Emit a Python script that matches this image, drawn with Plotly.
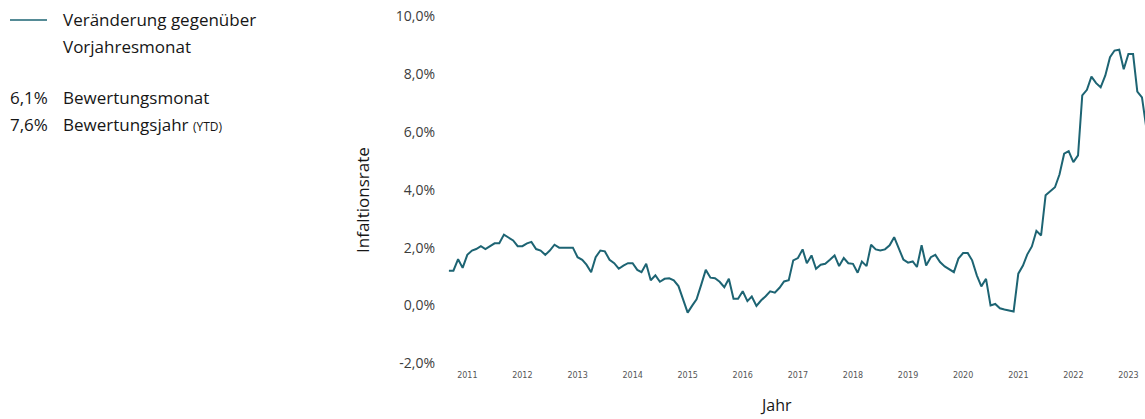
import pandas as pd
import plotly.graph_objects as go

# Monthly consumer price inflation, change against the same month of the previous year (%)
months = pd.date_range("2010-09-01", "2023-05-01", freq="MS")

rate_2010 = [1.2, 1.2, 1.6, 1.3]  # Sep-Dec
rate_2011 = [1.75, 1.9, 1.95, 2.05, 1.95, 2.05, 2.15, 2.15, 2.45, 2.35, 2.25, 2.05]
rate_2012 = [2.05, 2.15, 2.2, 1.95, 1.9, 1.75, 1.9, 2.1, 2.0, 2.0, 2.0, 2.0]
rate_2013 = [1.67, 1.58, 1.41, 1.15, 1.67, 1.9, 1.87, 1.58, 1.46, 1.27, 1.38, 1.46]
rate_2014 = [1.46, 1.23, 1.15, 1.44, 0.87, 1.04, 0.82, 0.92, 0.94, 0.87, 0.67, 0.23]
rate_2015 = [-0.25, 0.0, 0.21, 0.72, 1.23, 0.96, 0.94, 0.82, 0.63, 0.92, 0.23, 0.23]
rate_2016 = [0.49, 0.15, 0.31, -0.02, 0.17, 0.32, 0.49, 0.44, 0.61, 0.83, 0.87, 1.56]
rate_2017 = [1.64, 1.94, 1.46, 1.73, 1.27, 1.41, 1.44, 1.58, 1.73, 1.36, 1.64, 1.46]
rate_2018 = [1.44, 1.13, 1.52, 1.36, 2.1, 1.94, 1.9, 1.94, 2.08, 2.36, 1.98, 1.59]
rate_2019 = [1.48, 1.52, 1.33, 2.08, 1.38, 1.67, 1.75, 1.5, 1.35, 1.25, 1.15, 1.62]
rate_2020 = [1.81, 1.81, 1.56, 1.04, 0.66, 0.92, 0.0, 0.05, -0.1, -0.14, -0.17, -0.21]
rate_2021 = [1.1, 1.38, 1.76, 2.04, 2.58, 2.42, 3.81, 3.96, 4.09, 4.53, 5.25, 5.34]
rate_2022 = [4.96, 5.19, 7.27, 7.46, 7.92, 7.69, 7.55, 7.96, 8.59, 8.82, 8.85, 8.17]
rate_2023 = [8.7, 8.7, 7.4, 7.2, 6.1]  # Jan-May

rate = (rate_2010 + rate_2011 + rate_2012 + rate_2013 + rate_2014 + rate_2015
        + rate_2016 + rate_2017 + rate_2018 + rate_2019 + rate_2020 + rate_2021
        + rate_2022 + rate_2023)

y_ticks = [-2, 0, 2, 4, 6, 8, 10]

# Headline figures: latest month and year-to-date average
month_value = rate[-1]
ytd_value = sum(rate_2023) / len(rate_2023)


def de_pct(v):
    return f"{v:.1f}".replace(".", ",") + "%"


W, H = 1145, 419
ML, MR, MT, MB = 440, 0, 2, 50
PW = W - ML - MR
PH = H - MT - MB


def fx(px):
    return (px - ML) / PW


def fy(py):
    return (H - MB - py) / PH


LINE = "#1d6473"
TEXT = "#161616"
FONT = "Open Sans"

fig = go.Figure(
    go.Scatter(
        x=months,
        y=rate,
        mode="lines",
        line=dict(color=LINE, width=2),
        showlegend=False,
        hovertemplate="%{x|%m.%Y}: %{y:.1f}%<extra></extra>",
    )
)

annotations = [
    dict(x=fx(61), y=fy(20), text="Veränderung gegenüber"),
    dict(x=fx(61), y=fy(46), text="Vorjahresmonat"),
    dict(x=fx(8), y=fy(98), text=de_pct(month_value)),
    dict(x=fx(61), y=fy(98), text="Bewertungsmonat"),
    dict(x=fx(8), y=fy(124), text=de_pct(ytd_value)),
    dict(x=fx(61), y=fy(124),
         text="Bewertungsjahr <span style='font-size:12px'>(YTD)</span>"),
]
for a in annotations:
    a.update(xref="paper", yref="paper", xanchor="left", yanchor="middle",
             showarrow=False, font=dict(family=FONT, size=17, color=TEXT))

annotations.append(dict(
    x=fx(362), y=fy(200), xref="paper", yref="paper", text="Infaltionsrate",
    textangle=-90, showarrow=False, xanchor="center", yanchor="middle",
    font=dict(family=FONT, size=17, color=TEXT)))
annotations.append(dict(
    x=fx(776), y=fy(418), xref="paper", yref="paper", text="Jahr",
    showarrow=False, xanchor="center", yanchor="bottom",
    font=dict(family=FONT, size=16, color=TEXT)))

fig.update_layout(
    width=W,
    height=H,
    margin=dict(l=ML, r=MR, t=MT, b=MB),
    paper_bgcolor="white",
    plot_bgcolor="white",
    showlegend=False,
    font=dict(family=FONT),
    annotations=annotations,
    shapes=[dict(type="line", xref="paper", yref="paper",
                 x0=fx(10), x1=fx(47), y0=fy(20), y1=fy(20),
                 line=dict(color=LINE, width=1.5))],
    xaxis=dict(
        range=["2010-07-04", "2023-04-21"],
        tickformat="%Y",
        dtick="M12",
        tick0="2011-01-01",
        showgrid=False,
        zeroline=False,
        showline=False,
        ticks="",
        tickfont=dict(family="DejaVu Sans", size=8, color="#555555"),
    ),
    yaxis=dict(
        range=[-2.2, 10.5],
        tickvals=y_ticks,
        ticktext=[de_pct(v) for v in y_ticks],
        showgrid=False,
        zeroline=False,
        showline=False,
        ticks="",
        ticklabelstandoff=4,
        tickfont=dict(family=FONT, size=14, color="#3c3c3c"),
    ),
)

fig.write_html("out.html")
